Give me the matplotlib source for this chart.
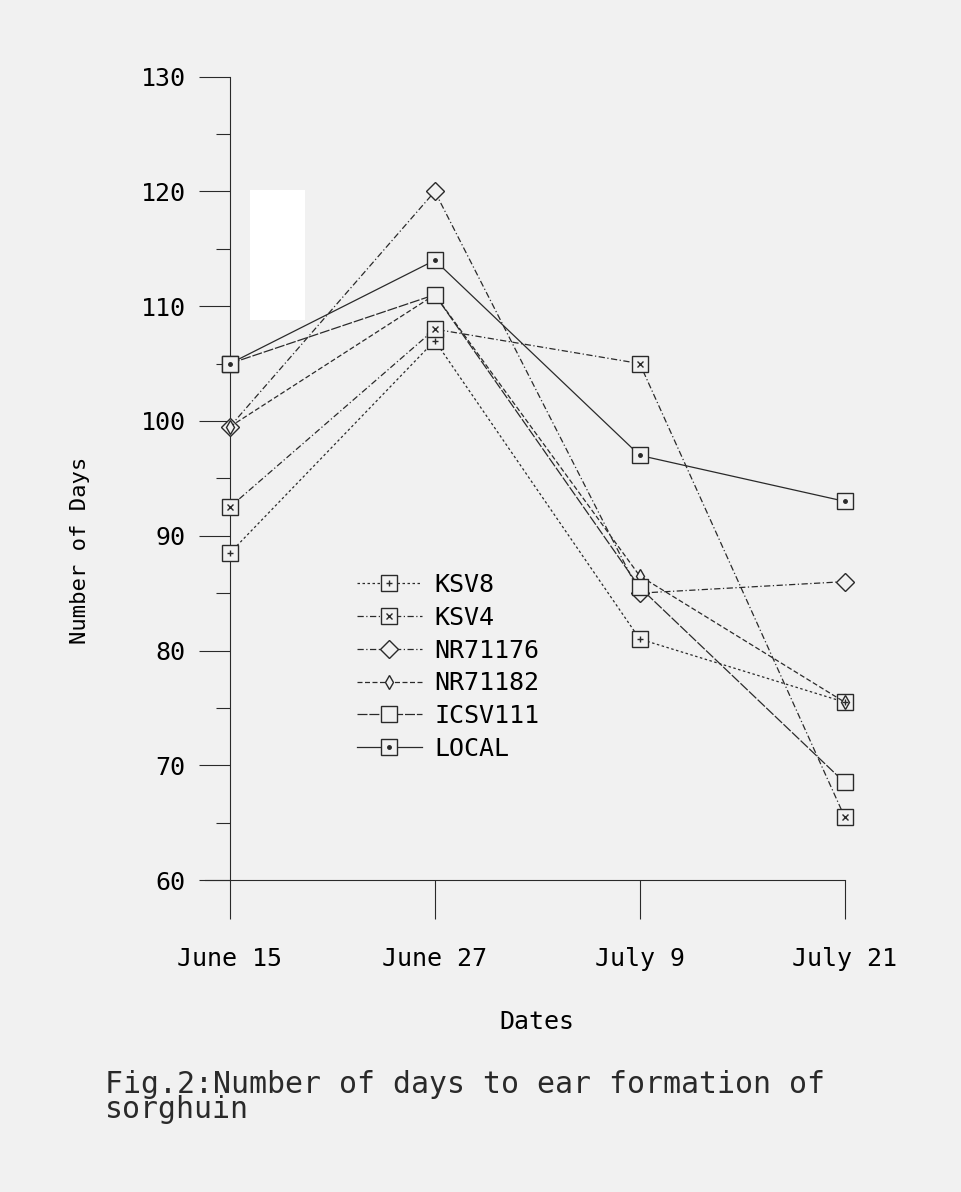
import numpy as np
import matplotlib
matplotlib.use('Agg')
import matplotlib.pyplot as plt
from matplotlib.legend_handler import HandlerTuple
from matplotlib.patches import Rectangle

plt.rcParams['font.family'] = 'DejaVu Sans Mono'

# dates of sowing and days to ear formation
dates = ['June 15', 'June 27', 'July 9', 'July 21']
ksv8 = [88.5, 107.0, 81.0, 75.5]
ksv4 = [92.5, 108.0, 105.0, 65.5]
nr71176 = [99.5, 120.0, 85.0, 86.0]
nr71182 = [99.5, 111.0, 86.5, 75.5]
icsv111 = [105.0, 111.0, 85.5, 68.5]
local = [105.0, 114.0, 97.0, 93.0]

series = [
    ('KSV8', ksv8, 's', '+', (0, (2, 2))),
    ('KSV4', ksv4, 's', 'x', (0, (5, 2, 1, 2))),
    ('NR71176', nr71176, 'D', None, (0, (5, 2, 1, 2))),
    ('NR71182', nr71182, 'd', None, (0, (4, 2))),
    ('ICSV111', icsv111, 's', None, (0, (8, 1.5))),
    ('LOCAL', local, 's', '.', '-'),
]

ink = '#2a2a2a'
bg = '#f1f1f1'

fig = plt.figure(figsize=(9.62, 11.92), dpi=100, facecolor=bg)
ax = fig.add_axes([0.239, 0.2617, 0.639, 0.674])
ax.set_facecolor(bg)

# white scan blemish
fig.patches.append(Rectangle((250 / 962, 1 - 320 / 1192), 55 / 962, 130 / 1192,
                             transform=fig.transFigure, facecolor='white',
                             edgecolor='none', zorder=0))

x = np.arange(len(dates))
handles = []
for name, vals, mk, inner, ls in series:
    ms = 7 if mk == 'd' else (9 if mk == 'D' else 11)
    ln, = ax.plot(x, vals, linestyle=ls, color=ink, lw=0.9, marker=mk,
                  markersize=ms, markerfacecolor=bg, markeredgecolor=ink,
                  markeredgewidth=1.0, clip_on=False, zorder=3)
    h = [ln]
    if inner is not None:
        p, = ax.plot(x, vals, linestyle='none', marker=inner, markersize=5,
                     color=ink, markeredgewidth=1.0, clip_on=False, zorder=4)
        h.append(p)
    handles.append((tuple(h), name))

ax.set_xlim(0, 3)
ax.set_ylim(60, 130)
ax.set_xticks(x)
ax.set_xticklabels(dates, fontsize=18)
ax.set_yticks(np.arange(60, 131, 10))
ax.set_yticks(np.arange(65, 130, 10), minor=True)
ax.tick_params(axis='y', labelsize=18, length=22, width=0.8, color=ink, pad=10)
ax.tick_params(axis='y', which='minor', length=10, width=0.8, color=ink)
ax.tick_params(axis='x', direction='out', length=28, width=0.8, color=ink, pad=20)

for s in ['top', 'right']:
    ax.spines[s].set_visible(False)
for s in ['left', 'bottom']:
    ax.spines[s].set_color(ink)
    ax.spines[s].set_linewidth(0.8)
    ax.spines[s].set_linestyle((0, (6, 1)))
ax.spines['bottom'].set_bounds(-0.12, 3)

ax.set_ylabel('Number of Days', fontsize=16)
ax.yaxis.set_label_coords(-0.228, 0.41)
ax.set_xlabel('Dates', fontsize=18, labelpad=28)

leg = ax.legend([h for h, _ in handles], [n for _, n in handles],
                handler_map={tuple: HandlerTuple(ndivide=1)},
                loc='upper left', bbox_to_anchor=(0.17, 0.41), frameon=False,
                fontsize=18, handlelength=2.6, labelspacing=0.35, handletextpad=0.5)

fig.text(105 / 962, 1 - 1097 / 1192,
         'Fig.2:Number of days to ear formation of\nsorghuin',
         fontsize=21.5, va='center', ha='left', color=ink, linespacing=0.85)

fig.savefig('out.png', dpi=100, facecolor=bg)
